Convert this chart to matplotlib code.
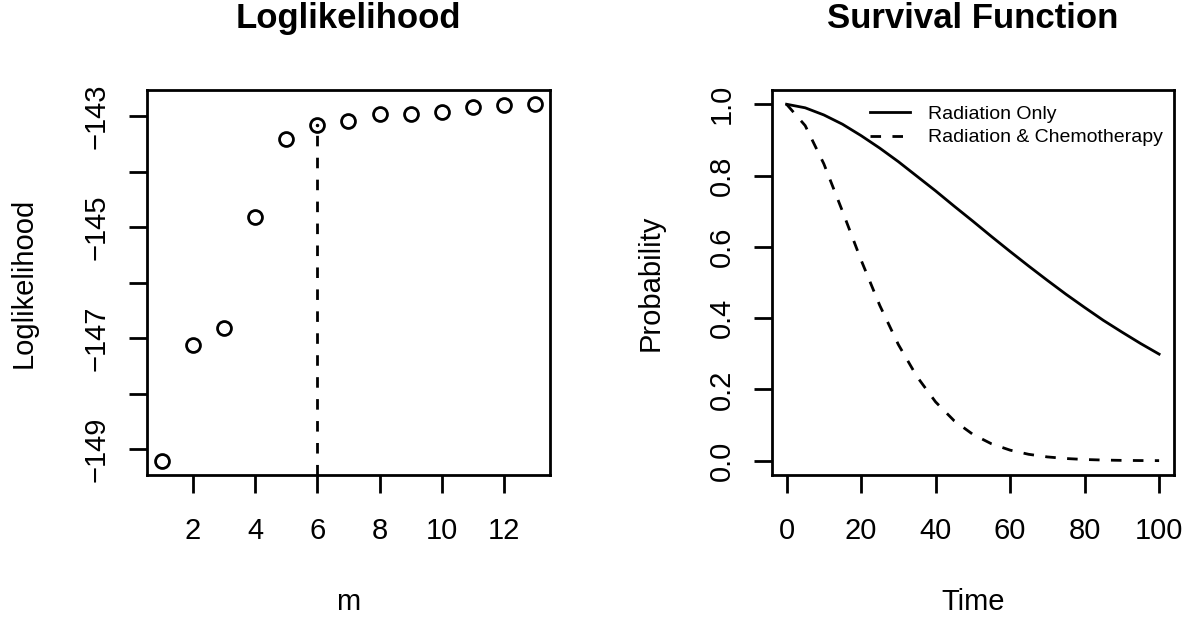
import matplotlib
matplotlib.use("Agg")
import matplotlib.pyplot as plt

plt.rcParams.update({
    "font.family": "Liberation Sans",
    "font.size": 21,
    "axes.linewidth": 2.0,
    "xtick.major.width": 2.0,
    "ytick.major.width": 2.0,
    "xtick.major.size": 13,
    "ytick.major.size": 13,
    "xtick.major.pad": 17,
    "ytick.major.pad": 13,
    "xtick.labelsize": 21,
    "ytick.labelsize": 21,
})

# left panel: loglikelihood by number of components
m_values = [1, 2, 3, 4, 5, 6, 7, 8, 9, 10, 11, 12, 13]
loglik = [-149.21, -147.13, -146.81, -144.82, -143.40, -143.16, -143.09,
          -142.96, -142.95, -142.92, -142.83, -142.80, -142.78]
best_m = 6
m_ticks = [2, 4, 6, 8, 10, 12]
ll_ticks = [-149, -148, -147, -146, -145, -144, -143]
ll_tick_labels = ["\u2212149", "", "\u2212147", "", "\u2212145", "", "\u2212143"]

# right panel: estimated survival curves
time_pts = [0, 5, 10, 15, 20, 25, 30, 35, 40, 45, 50,
            55, 60, 65, 70, 75, 80, 85, 90, 95, 100]
surv_radiation = [1.000, 0.990, 0.970, 0.944, 0.912, 0.877, 0.839, 0.798, 0.757, 0.714, 0.672,
                  0.629, 0.587, 0.546, 0.506, 0.467, 0.430, 0.394, 0.361, 0.329, 0.299]
surv_combined = [1.000, 0.940, 0.833, 0.700, 0.563, 0.436, 0.326, 0.236, 0.165, 0.112, 0.074,
                 0.0475, 0.0297, 0.018, 0.0107, 0.0062, 0.0035, 0.0019, 0.0010, 0.0005, 0.0003]
time_ticks = [0, 20, 40, 60, 80, 100]
prob_ticks = [0.0, 0.2, 0.4, 0.6, 0.8, 1.0]
prob_tick_labels = ["0.0", "0.2", "0.4", "0.6", "0.8", "1.0"]

DASH = (3.8, 4.1)
LW = 2.0


def r_limits(vals):
    lo, hi = min(vals), max(vals)
    pad = 0.04 * (hi - lo)
    return lo - pad, hi + pad


fig = plt.figure(figsize=(11.89, 6.18), dpi=100)
ax1 = fig.add_axes([0.1236, 0.2314, 0.339, 0.623])
ax2 = fig.add_axes([0.649, 0.2314, 0.3384, 0.623])

# --- Loglikelihood ---
ax1.set_xlim(*r_limits(m_values))
ylo, yhi = r_limits(loglik)
ax1.set_ylim(ylo, yhi)
best_ll = loglik[m_values.index(best_m)]
ax1.plot([best_m, best_m], [ylo, best_ll], color="black", lw=LW,
         dashes=DASH, dash_capstyle="butt")
ax1.plot(m_values, loglik, "o", mfc="white", mec="black", ms=10, mew=LW)
ax1.plot([best_m], [best_ll], ".", color="black", ms=3)

ax1.set_xticks(m_ticks)
ax1.set_yticks(ll_ticks)
ax1.set_yticklabels(ll_tick_labels, rotation=90, va="center")
ax1.xaxis.get_major_ticks()[m_ticks.index(best_m)].tick1line.set_color("#DF536B")

ax1.set_title("Loglikelihood", fontsize=25, fontweight="bold", y=1.161, va="baseline", pad=0)
ax1.set_xlabel("m", fontsize=21)
ax1.xaxis.set_label_coords(0.5, -0.3506)
ax1.xaxis.label.set_va("baseline")
ax1.set_ylabel("Loglikelihood", fontsize=21)
ax1.yaxis.set_label_coords(-0.305, 0.5)
ax1.yaxis.label.set_va("center")

# --- Survival Function ---
ax2.set_xlim(*r_limits(time_pts))
ax2.set_ylim(-0.04, 1.04)
ax2.plot(time_pts, surv_radiation, color="black", lw=LW, label="Radiation Only")
ax2.plot(time_pts, surv_combined, color="black", lw=LW, dashes=DASH,
         dash_capstyle="butt", label="Radiation & Chemotherapy")
ax2.set_xticks(time_ticks)
ax2.set_yticks(prob_ticks)
ax2.set_yticklabels(prob_tick_labels, rotation=90, va="center")

ax2.legend(loc="upper left", bbox_to_anchor=(0.244, 0.96), frameon=False, fontsize=14,
           handlelength=2.06, handletextpad=0.93, borderpad=0, borderaxespad=0,
           labelspacing=0.3)

ax2.set_title("Survival Function", fontsize=25, fontweight="bold", y=1.161, va="baseline", pad=0)
ax2.set_xlabel("Time", fontsize=21)
ax2.xaxis.set_label_coords(0.5, -0.3506)
ax2.xaxis.label.set_va("baseline")
ax2.set_ylabel("Probability", fontsize=21)
ax2.yaxis.set_label_coords(-0.300, 0.5)
ax2.yaxis.label.set_va("center")

fig.savefig("out.png", dpi=100)
